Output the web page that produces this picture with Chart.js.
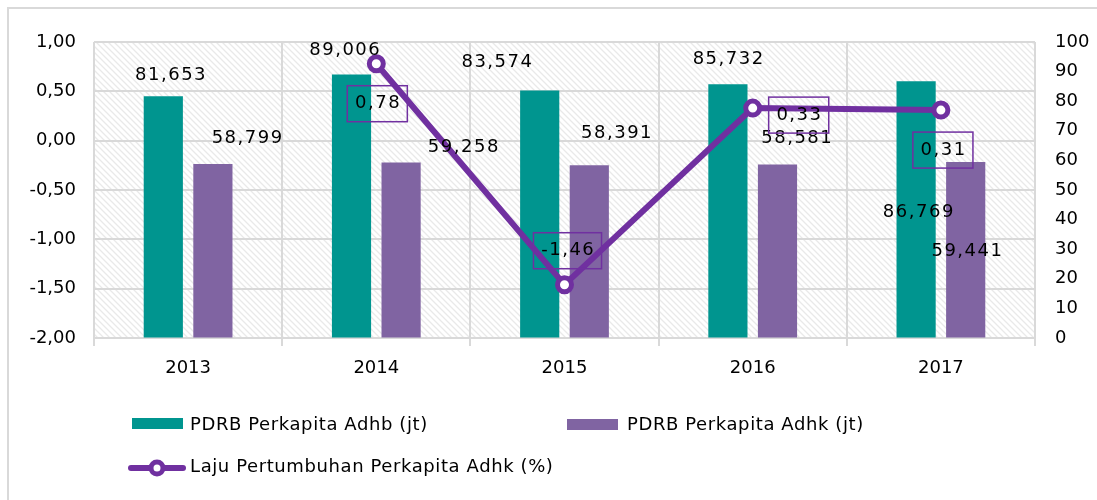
<!DOCTYPE html>
<html lang="id">
<head>
<meta charset="UTF-8">
<title>PDRB Perkapita</title>
<script src="https://cdn.jsdelivr.net/npm/chart.js"></script>
<style>
  html, body { margin: 0; padding: 0; background: #fff; }
  #wrap { width: 1097px; height: 500px; position: relative; }
</style>
</head>
<body>
<div id="wrap"><canvas id="pdrbChart" width="1097" height="500"></canvas></div>
<script>
// data
const years = ['2013', '2014', '2015', '2016', '2017'];
const adhb = [81.653, 89.006, 83.574, 85.732, 86.769];
const adhk = [58.799, 59.258, 58.391, 58.581, 59.441];
const laju = [null, 0.78, -1.46, 0.33, 0.31];

const labelAdhb = 'PDRB Perkapita Adhb (jt)';
const labelAdhk = 'PDRB Perkapita Adhk (jt)';
const labelLaju = 'Laju Pertumbuhan Perkapita Adhk (%)';

const TEAL = '#00958f';
const UNGU = '#8064a2';
const GARIS = '#7030a0';
const GRID = '#d9d9d9';
const FONT = '"DejaVu Sans", Verdana, sans-serif';

// geser label data (px) dari titik/ujung batang, seperti di Excel aslinya
const geserAdhb = [[7, -21], [-7, -24], [-43, -28], [0, -25], [2, 131]];
const geserAdhk = [[34, -26], [62, -15], [27, -32], [19, -26], [1, 89]];
const geserLaju = [null, [1, 40], [3, -34], [46, 7], [2, 40]];

const koma = (v, d) => v.toFixed(d).replace('.', ',');

// pola arsir latar plot
function buatArsir() {
    const c = document.createElement('canvas');
    c.width = 6; c.height = 6;
    const g = c.getContext('2d');
    g.fillStyle = '#fff';
    g.fillRect(0, 0, 6, 6);
    g.strokeStyle = '#e9e9e9';
    g.lineWidth = 1.3;
    g.beginPath();
    g.moveTo(-1, -1); g.lineTo(7, 7);
    g.moveTo(-4, 2); g.lineTo(4, 10);
    g.moveTo(2, -4); g.lineTo(10, 4);
    g.stroke();
    return g.createPattern(c, 'repeat');
}

const latarPlugin = {
    id: 'latar',
    beforeDraw(chart) {
        const ctx = chart.ctx, a = chart.chartArea;
        ctx.save();
        ctx.fillStyle = '#fff';
        ctx.fillRect(0, 0, chart.width, chart.height);
        ctx.strokeStyle = GRID;
        ctx.lineWidth = 2;
        ctx.beginPath();
        ctx.moveTo(8, chart.height + 2);
        ctx.lineTo(8, 8);
        ctx.lineTo(chart.width + 2, 8);
        ctx.stroke();
        ctx.fillStyle = buatArsir();
        ctx.fillRect(a.left, a.top, a.right - a.left, a.bottom - a.top);
        ctx.restore();
    }
};

const labelPlugin = {
    id: 'labelData',
    afterDatasetsDraw(chart) {
        const ctx = chart.ctx;
        ctx.save();
        ctx.font = '18px ' + FONT;
        ctx.letterSpacing = '1.5px';
        ctx.textAlign = 'center';
        ctx.textBaseline = 'middle';
        ctx.fillStyle = '#000';
        const tulis = (dsIdx, nilai, desimal, geser, kotak) => {
            const meta = chart.getDatasetMeta(dsIdx);
            meta.data.forEach((el, i) => {
                if (nilai[i] === null) return;
                const x = el.x + geser[i][0];
                const y = el.y + geser[i][1];
                const teks = koma(nilai[i], desimal);
                if (kotak) {
                    const w = ctx.measureText(teks).width + 14;
                    ctx.strokeStyle = GARIS;
                    ctx.lineWidth = 1.5;
                    ctx.strokeRect(x - w / 2, y - 18, w, 36);
                }
                ctx.fillText(teks, x + 0.75, y);
            });
        };
        tulis(1, adhb, 3, geserAdhb, false);
        tulis(2, adhk, 3, geserAdhk, false);
        tulis(0, laju, 2, geserLaju, true);
        ctx.restore();
    }
};

// legenda digambar sendiri: dua baris seperti aslinya
const legendaPlugin = {
    id: 'legenda',
    afterDraw(chart) {
        const ctx = chart.ctx;
        ctx.save();
        ctx.font = '18px ' + FONT;
        ctx.letterSpacing = '0.6px';
        ctx.textBaseline = 'middle';
        ctx.fillStyle = TEAL;
        ctx.fillRect(132, 418, 51, 11);
        ctx.fillStyle = UNGU;
        ctx.fillRect(567, 419, 51, 11);
        ctx.strokeStyle = GARIS;
        ctx.lineWidth = 6;
        ctx.lineCap = 'round';
        ctx.beginPath();
        ctx.moveTo(131, 468); ctx.lineTo(183, 468);
        ctx.stroke();
        ctx.beginPath();
        ctx.arc(157, 468, 6, 0, Math.PI * 2);
        ctx.fillStyle = '#fff';
        ctx.fill();
        ctx.lineWidth = 5;
        ctx.stroke();
        ctx.fillStyle = '#000';
        ctx.fillText(labelAdhb, 190, 425);
        ctx.fillText(labelAdhk, 627, 425);
        ctx.fillText(labelLaju, 190, 467);
        ctx.restore();
    }
};

const ctx = document.getElementById('pdrbChart').getContext('2d');
new Chart(ctx, {
    type: 'bar',
    data: {
        labels: years,
        datasets: [
            {
                type: 'line',
                label: labelLaju,
                data: laju,
                yAxisID: 'y',
                borderColor: GARIS,
                borderWidth: 6,
                pointRadius: 7,
                pointBorderWidth: 5,
                pointBackgroundColor: '#fff',
                pointBorderColor: GARIS,
                order: 0
            },
            {
                label: labelAdhb,
                data: adhb,
                yAxisID: 'y1',
                backgroundColor: TEAL,
                categoryPercentage: 0.527,
                barPercentage: 0.79,
                order: 1
            },
            {
                label: labelAdhk,
                data: adhk,
                yAxisID: 'y1',
                backgroundColor: UNGU,
                categoryPercentage: 0.527,
                barPercentage: 0.79,
                order: 2
            }
        ]
    },
    options: {
        responsive: false,
        animation: false,
        layout: { padding: { top: 42, bottom: 112, left: 0, right: 0 } },
        plugins: {
            legend: { display: false },
            tooltip: { enabled: false }
        },
        scales: {
            x: {
                afterFit: s => { s.height = 50; },
                grid: { color: GRID, lineWidth: 2, tickLength: 8, tickColor: GRID },
                border: { color: GRID, width: 2 },
                ticks: { color: '#000', font: { family: FONT, size: 18 }, padding: 12 }
            },
            y: {
                position: 'left',
                min: -2, max: 1,
                afterFit: s => { s.width = 94; },
                grid: { color: GRID, lineWidth: 2, drawTicks: false },
                border: { display: false },
                ticks: {
                    stepSize: 0.5,
                    color: '#000',
                    padding: 18,
                    font: { family: FONT, size: 18 },
                    callback: v => koma(v, 2)
                }
            },
            y1: {
                position: 'right',
                min: 0, max: 100,
                afterFit: s => { s.width = 62; },
                grid: { drawOnChartArea: false, drawTicks: false },
                border: { display: false },
                ticks: {
                    stepSize: 10,
                    color: '#000',
                    padding: 20,
                    font: { family: FONT, size: 18 }
                }
            }
        }
    },
    plugins: [latarPlugin, labelPlugin, legendaPlugin]
});
</script>
</body>
</html>
